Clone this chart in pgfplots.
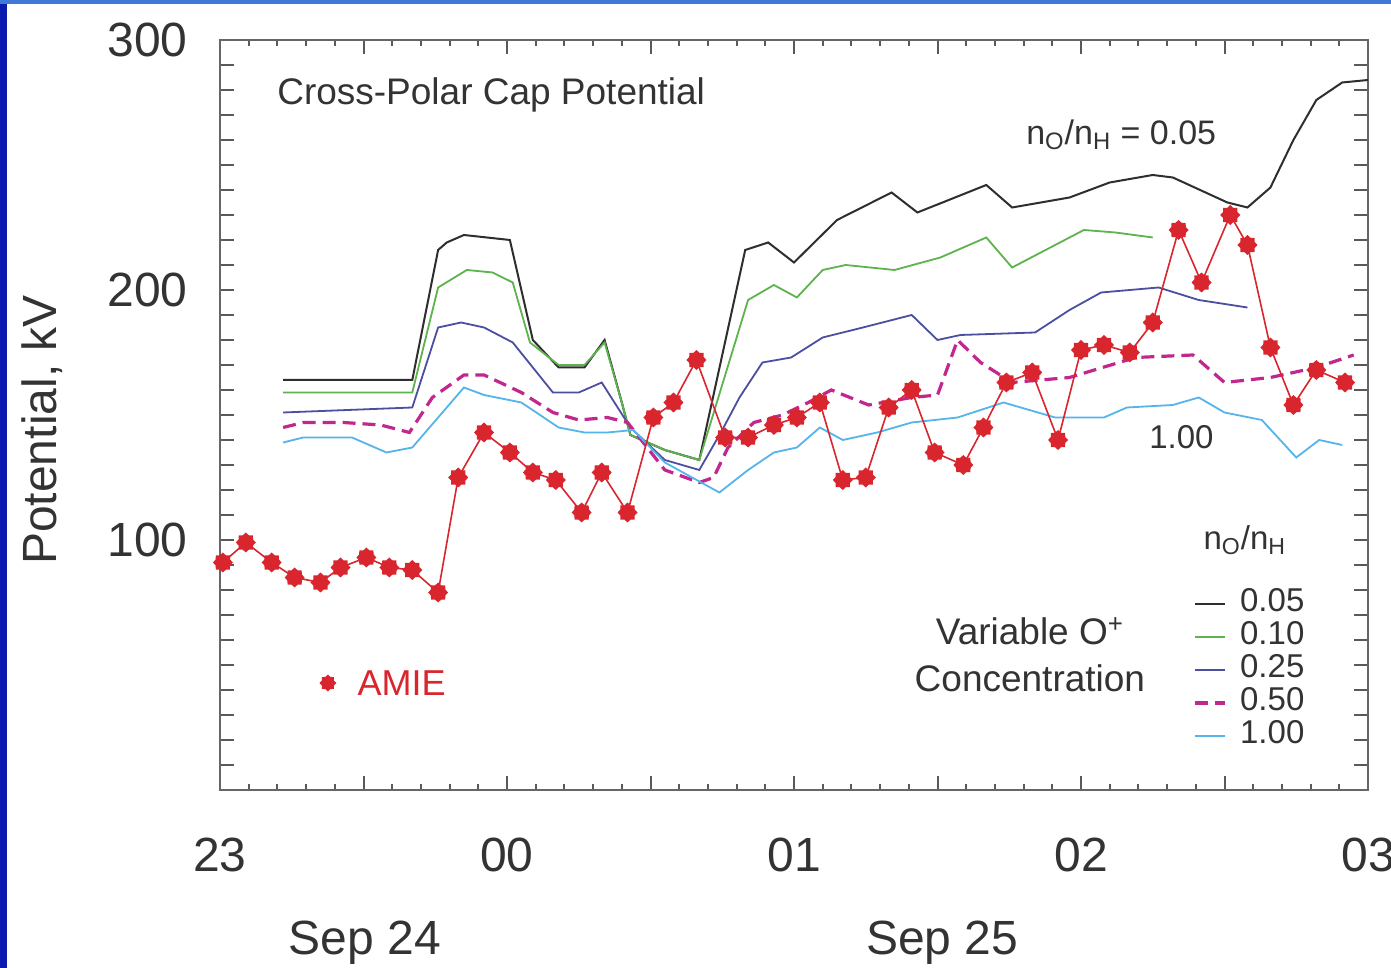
\documentclass[border=0pt]{standalone}
\usepackage{pgfplots}
\usepackage{pgfplotstable}
\pgfplotsset{compat=1.18}
\usepackage{fontspec}
\setmainfont{Liberation Sans}
\definecolor{cblack}{HTML}{2E2E2E}
\definecolor{cgreen}{HTML}{5DB34C}
\definecolor{cblue}{HTML}{4B4FA0}
\definecolor{cmag}{HTML}{C2268F}
\definecolor{ccyan}{HTML}{55B5EA}
\definecolor{cred}{HTML}{D9262E}
\definecolor{ctext}{HTML}{333333}
\definecolor{bordL}{HTML}{0A1AAE}
\definecolor{bordT}{HTML}{3F78D6}

\pgfdeclareplotmark{amie}{%
\pgfpathmoveto{\pgfpointpolar{0}{\pgfplotmarksize}}%
\pgfpathlineto{\pgfpointpolar{22.5}{0.78\pgfplotmarksize}}%
\pgfpathlineto{\pgfpointpolar{45}{\pgfplotmarksize}}%
\pgfpathlineto{\pgfpointpolar{67.5}{0.78\pgfplotmarksize}}%
\pgfpathlineto{\pgfpointpolar{90}{\pgfplotmarksize}}%
\pgfpathlineto{\pgfpointpolar{112.5}{0.78\pgfplotmarksize}}%
\pgfpathlineto{\pgfpointpolar{135}{\pgfplotmarksize}}%
\pgfpathlineto{\pgfpointpolar{157.5}{0.78\pgfplotmarksize}}%
\pgfpathlineto{\pgfpointpolar{180}{\pgfplotmarksize}}%
\pgfpathlineto{\pgfpointpolar{202.5}{0.78\pgfplotmarksize}}%
\pgfpathlineto{\pgfpointpolar{225}{\pgfplotmarksize}}%
\pgfpathlineto{\pgfpointpolar{247.5}{0.78\pgfplotmarksize}}%
\pgfpathlineto{\pgfpointpolar{270}{\pgfplotmarksize}}%
\pgfpathlineto{\pgfpointpolar{292.5}{0.78\pgfplotmarksize}}%
\pgfpathlineto{\pgfpointpolar{315}{\pgfplotmarksize}}%
\pgfpathlineto{\pgfpointpolar{337.5}{0.78\pgfplotmarksize}}%
\pgfpathclose\pgfusepathqfill}

% x: hours after 23:00 UT Sep 24
\pgfplotstableread{
x y
0.22 164
0.67 164
0.76 216
0.79 219
0.85 222
1.01 220
1.09 180
1.18 169
1.27 169
1.34 180
1.40 155
1.43 142
1.55 136
1.67 132
1.83 216
1.91 219
2.00 211
2.15 228
2.34 239
2.43 231
2.67 242
2.76 233
2.96 237
3.10 243
3.25 246
3.32 245
3.51 235
3.58 233
3.66 241
3.74 260
3.82 276
3.91 283
4.00 284
}\tblack
\pgfplotstableread{
x y
0.22 159
0.67 159
0.76 201
0.86 208
0.95 207
1.02 203
1.08 179
1.18 170
1.27 170
1.34 179
1.40 155
1.43 142
1.55 136
1.67 132
1.84 196
1.93 202
2.01 197
2.10 208
2.18 210
2.35 208
2.51 213
2.67 221
2.76 209
3.01 224
3.12 223
3.25 221
}\tgreen
\pgfplotstableread{
x y
0.22 151
0.67 153
0.76 185
0.84 187
0.92 185
1.02 179
1.16 159
1.25 159
1.33 163
1.43 145
1.55 132
1.67 128
1.75 144
1.81 157
1.89 171
1.99 173
2.10 181
2.24 185
2.41 190
2.50 180
2.58 182
2.84 183
2.96 192
3.07 199
3.27 201
3.41 196
3.58 193
}\tblue
\pgfplotstableread{
x y
0.22 145
0.29 147
0.43 147
0.56 146
0.66 143
0.74 157
0.85 166
0.92 166
1.05 159
1.16 151
1.25 148
1.35 149
1.42 147
1.55 128
1.67 123
1.72 125
1.77 137
1.86 147
1.96 150
2.05 155
2.13 160
2.26 154
2.41 157
2.50 158
2.57 180
2.65 171
2.76 163
2.96 165
3.19 173
3.39 174
3.50 163
3.66 165
3.82 169
3.95 174
}\tmag
\pgfplotstableread{
x y
0.22 139
0.29 141
0.46 141
0.58 135
0.67 137
0.85 161
0.92 158
1.05 155
1.18 145
1.27 143
1.35 143
1.44 144
1.55 131
1.74 119
1.84 128
1.93 135
2.01 137
2.09 145
2.17 140
2.29 143
2.41 147
2.57 149
2.73 155
2.91 149
3.08 149
3.16 153
3.32 154
3.41 157
3.50 151
3.63 148
3.75 133
3.83 140
3.91 138
}\tcyan
\pgfplotstableread{
x y
0.01 91
0.09 99
0.18 91
0.26 85
0.35 83
0.42 89
0.51 93
0.59 89
0.67 88
0.76 79
0.83 125
0.92 143
1.01 135
1.09 127
1.17 124
1.26 111
1.33 127
1.42 111
1.51 149
1.58 155
1.66 172
1.76 141
1.84 141
1.93 146
2.01 149
2.09 155
2.17 124
2.25 125
2.33 153
2.41 160
2.49 135
2.59 130
2.66 145
2.74 163
2.83 167
2.92 140
3.00 176
3.08 178
3.17 175
3.25 187
3.34 224
3.42 203
3.52 230
3.58 218
3.66 177
3.74 154
3.82 168
3.92 163
}\tamie

\begin{document}
\begin{tikzpicture}
\fill[white] (0,0) rectangle (695.5pt,484pt);
\fill[bordL] (0,0) rectangle (3.5pt,484pt);
\fill[bordT] (0,481.8pt) rectangle (695.5pt,484pt);
\begin{axis}[
  at={(110pt,89pt)}, anchor=south west,
  scale only axis, width=574pt, height=375pt,
  xmin=0, xmax=4, ymin=0, ymax=300,
  clip=false,
  axis line style={color=black!60, line width=1.2pt},
  tick align=inside, tick pos=both,
  major tick length=7pt, minor tick length=3pt,
  every tick/.style={color=black!65, line width=1pt},
  xtick={0,0.5,...,4},
  xticklabels={23,,00,,01,,02,,03},
  minor x tick num=4,
  ytick={0,10,...,300},
  yticklabels={,,,,,,,,,,100,,,,,,,,,,200,,,,,,,,,,300},
  xticklabel style={anchor=base, yshift=-41pt, inner sep=0pt, font=\fontsize{24}{24}\selectfont, text=ctext},
  yticklabel style={anchor=east, xshift=-16pt, inner sep=0pt, font=\fontsize{24}{24}\selectfont, text=ctext},
  ylabel={Potential, kV},
  ylabel style={at={(axis description cs:-0.155,0.48)}, anchor=center, font=\fontsize{24}{24}\selectfont, text=ctext},
  legend style={at={(axis cs:3.39,81)}, anchor=north west, draw=none, fill=none,
    inner sep=0pt, outer sep=0pt, row sep=0pt, column sep=7pt,
    font=\fontsize{16.5}{16.5}\selectfont, text=ctext,
    nodes={inner sep=0pt, text height=12pt, text depth=4.5pt}},
  legend cell align=left,
  legend image code/.code={\draw[#1] (0pt,0pt) -- (15pt,0pt);},
]
\addplot[cblack, line width=1pt] table {\tblack};
\addlegendentry{0.05}
\addplot[cgreen, line width=0.9pt] table {\tgreen};
\addlegendentry{0.10}
\addplot[cblue, line width=0.9pt] table {\tblue};
\addlegendentry{0.25}
\addplot[cmag, line width=1.6pt, dash pattern=on 6.5pt off 3.5pt] table {\tmag};
\addlegendentry{0.50}
\addplot[ccyan, line width=0.9pt] table {\tcyan};
\addlegendentry{1.00}
\addplot[cred, line width=0.8pt, mark=amie, mark size=5pt, mark options={fill=cred, draw=none}, forget plot] table {\tamie};
\addplot[draw=none, mark=amie, mark size=4.2pt, mark options={fill=cred, draw=none}, forget plot] coordinates {(0.376,42.8)};

\node[anchor=west, text=ctext, font=\fontsize{18.5}{18.5}\selectfont] at (axis cs:0.175,278) {Cross-Polar Cap Potential};
\node[text=ctext, font=\fontsize{17}{17}\selectfont] at (axis cs:3.14,262) {n\textsubscript{O}/n\textsubscript{H} = 0.05};
\node[text=ctext, font=\fontsize{16.5}{16.5}\selectfont] at (axis cs:3.35,141) {1.00};
\node[text=ctext, font=\fontsize{16.5}{16.5}\selectfont] at (axis cs:3.571,100) {n\textsubscript{O}/n\textsubscript{H}};
\node[text=ctext, font=\fontsize{18.5}{18.5}\selectfont] at (axis cs:2.822,63.5) {Variable O\textsuperscript{+}};
\node[text=ctext, font=\fontsize{18.5}{18.5}\selectfont] at (axis cs:2.822,44.8) {Concentration};
\node[anchor=west, text=cred, font=\fontsize{18}{18}\selectfont] at (axis cs:0.455,42.8) {AMIE};
\node[anchor=base, text=ctext, font=\fontsize{24}{24}\selectfont] at (axis cs:0.505,-65.6) {Sep 24};
\node[anchor=base, text=ctext, font=\fontsize{24}{24}\selectfont] at (axis cs:2.516,-65.6) {Sep 25};
\end{axis}
\pgfresetboundingbox
\path[use as bounding box] (0,0) rectangle (695.5pt,484pt);
\end{tikzpicture}
\end{document}
